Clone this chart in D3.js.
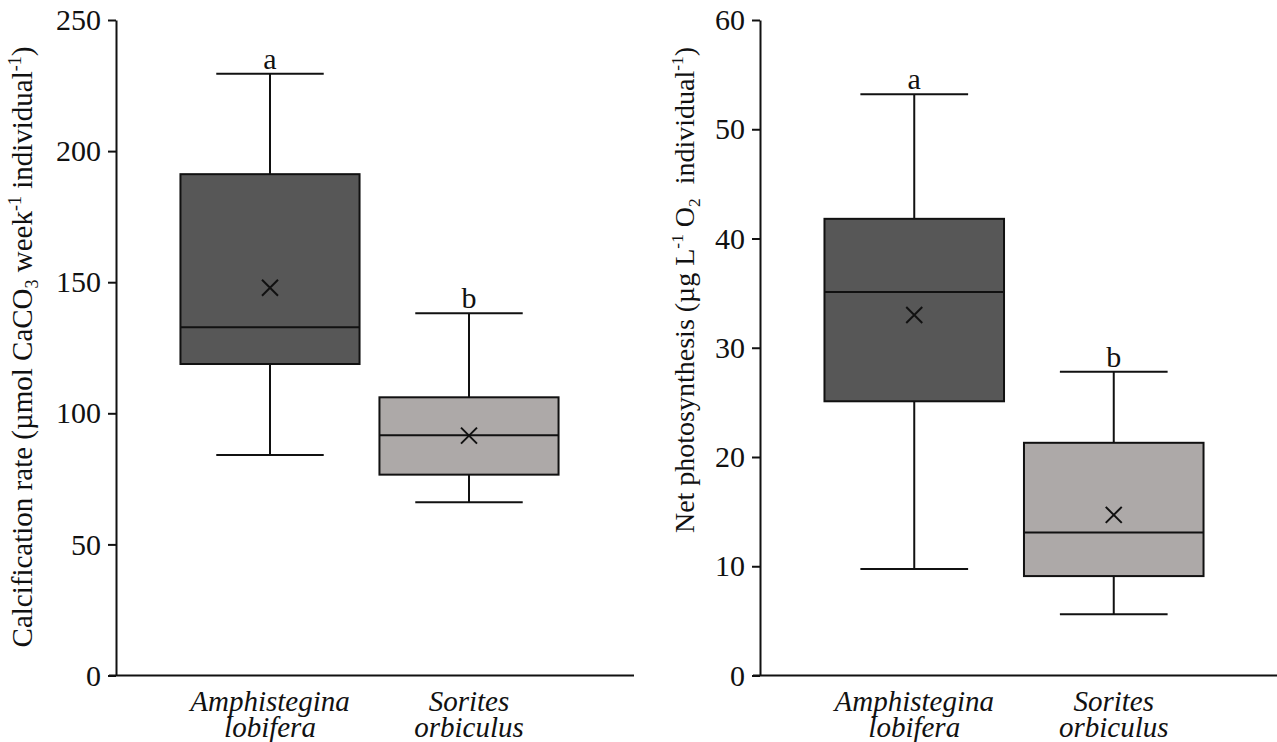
<!DOCTYPE html>
<html>
<head>
<meta charset="utf-8">
<script src="https://cdn.jsdelivr.net/npm/d3@7"></script>
<style>
  html, body { margin: 0; padding: 0; background: #fff; }
  svg { display: block; }
  text { font-family: "Liberation Serif", "Times New Roman", serif; fill: #111; }
</style>
</head>
<body>
<svg id="chart" width="1277" height="742"></svg>
<script>
// ---------------- data ----------------
const categories = ["Amphistegina lobifera", "Sorites orbiculus"];
const categoryLines = [["Amphistegina", "lobifera"], ["Sorites", "orbiculus"]];
const boxFills = ["#575757", "#ada9a8"];
const letters = ["a", "b"];

// Calcification rate (µmol CaCO3 week-1 individual-1)
const calcLow    = [84.1, 66.1];
const calcQ1     = [118.8, 76.6];
const calcMedian = [132.8, 91.6];
const calcQ3     = [191.2, 106.1];
const calcHigh   = [229.5, 138.2];
const calcMean   = [147.9, 91.5];
const calcTicks  = [0, 50, 100, 150, 200, 250];

// Net photosynthesis (µg L-1 O2 individual-1)
const photoLow    = [9.75, 5.6];
const photoQ1     = [25.1, 9.1];
const photoMedian = [35.1, 13.1];
const photoQ3     = [41.8, 21.3];
const photoHigh   = [53.2, 27.8];
const photoMean   = [33.0, 14.7];
const photoTicks  = [0, 10, 20, 30, 40, 50, 60];

// ---------------- drawing ----------------
const svg = d3.select("#chart");
const TICK_FONT = 30;
const CAT_FONT = 29;
const LETTER_FONT = 30;
const INK = "#111";

function panel(opts) {
  const g = svg.append("g");
  const y = d3.scaleLinear().domain(opts.yDomain).range([675.5, 20]);
  const x = d3.scaleBand().domain(categories).range(opts.bandRange).paddingInner(0).paddingOuter(0);
  const boxW = x.bandwidth() * 0.9;
  const capW = x.bandwidth() * 0.27;

  // y axis
  const ax = g.append("g")
    .attr("transform", `translate(${opts.axisX},0)`)
    .call(d3.axisLeft(y).tickValues(opts.ticks).tickSize(8).tickSizeOuter(0).tickPadding(7));
  ax.selectAll("path.domain").attr("stroke", INK).attr("stroke-width", 2);
  ax.selectAll(".tick line").attr("stroke", INK).attr("stroke-width", 2);
  ax.selectAll(".tick text").attr("font-size", TICK_FONT).attr("font-family", "Liberation Serif").attr("fill", INK);

  // x axis line
  g.append("line")
    .attr("x1", opts.axisX - 7).attr("x2", opts.xEnd)
    .attr("y1", y(0)).attr("y2", y(0))
    .attr("stroke", INK).attr("stroke-width", 2);

  const d = categories.map((c, i) => ({
    c, i, low: opts.low[i], q1: opts.q1[i], med: opts.median[i], q3: opts.q3[i],
    high: opts.high[i], mean: opts.mean[i]
  }));
  const cx = dd => x(dd.c) + x.bandwidth() / 2;

  const b = g.selectAll("g.box").data(d).enter().append("g").attr("class", "box");
  // whiskers
  b.append("line").attr("x1", cx).attr("x2", cx)
    .attr("y1", dd => y(dd.q3)).attr("y2", dd => y(dd.high))
    .attr("stroke", INK).attr("stroke-width", 2);
  b.append("line").attr("x1", cx).attr("x2", cx)
    .attr("y1", dd => y(dd.q1)).attr("y2", dd => y(dd.low))
    .attr("stroke", INK).attr("stroke-width", 2);
  b.append("line").attr("x1", dd => cx(dd) - capW).attr("x2", dd => cx(dd) + capW)
    .attr("y1", dd => y(dd.high)).attr("y2", dd => y(dd.high))
    .attr("stroke", INK).attr("stroke-width", 2);
  b.append("line").attr("x1", dd => cx(dd) - capW).attr("x2", dd => cx(dd) + capW)
    .attr("y1", dd => y(dd.low)).attr("y2", dd => y(dd.low))
    .attr("stroke", INK).attr("stroke-width", 2);
  // box
  b.append("rect")
    .attr("x", dd => cx(dd) - boxW / 2).attr("width", boxW)
    .attr("y", dd => y(dd.q3)).attr("height", dd => y(dd.q1) - y(dd.q3))
    .attr("fill", dd => boxFills[dd.i]).attr("stroke", INK).attr("stroke-width", 2);
  // median
  b.append("line").attr("x1", dd => cx(dd) - boxW / 2).attr("x2", dd => cx(dd) + boxW / 2)
    .attr("y1", dd => y(dd.med)).attr("y2", dd => y(dd.med))
    .attr("stroke", INK).attr("stroke-width", 2);
  // mean X
  const s = 8;
  b.append("path")
    .attr("d", dd => {
      const px = cx(dd), py = y(dd.mean);
      return `M${px - s},${py - s}L${px + s},${py + s}M${px - s},${py + s}L${px + s},${py - s}`;
    })
    .attr("stroke", INK).attr("stroke-width", 2).attr("fill", "none");
  // letters
  b.append("text")
    .attr("x", cx).attr("y", dd => y(dd.high) - 5)
    .attr("text-anchor", "middle").attr("font-size", LETTER_FONT)
    .text(dd => letters[dd.i]);

  // category labels (two lines each)
  const lab = g.selectAll("text.cat").data(d).enter().append("text")
    .attr("class", "cat")
    .attr("text-anchor", "middle").attr("font-size", CAT_FONT).attr("font-style", "italic");
  lab.each(function(dd) {
    const t = d3.select(this);
    categoryLines[dd.i].forEach((ln, k) => {
      t.append("tspan").attr("x", cx(dd)).attr("y", 711 + k * 26).text(ln);
    });
  });

  // y title
  const tt = g.append("text")
    .attr("transform", `translate(${opts.titleX},${opts.titleY}) rotate(-90)`)
    .attr("text-anchor", "middle").attr("font-size", opts.titleSize);
  opts.title.forEach(seg => {
    const sp = tt.append("tspan").text(seg.t);
    if (seg.sup) sp.attr("font-size", opts.titleSize * 0.62).attr("dy", -opts.titleSize * 0.38);
    if (seg.sub) sp.attr("font-size", opts.titleSize * 0.62).attr("dy", opts.titleSize * 0.22);
    if (seg.back) sp.attr("dy", seg.back * opts.titleSize);
  });
}

panel({
  yDomain: [0, 250], ticks: calcTicks, axisX: 116, xEnd: 634,
  bandRange: [170.5, 568.5],
  low: calcLow, q1: calcQ1, median: calcMedian, q3: calcQ3, high: calcHigh, mean: calcMean,
  titleX: 32, titleY: 347, titleSize: 29,
  title: [
    { t: "Calcification rate (µmol CaCO" },
    { t: "3", sub: true },
    { t: " week", back: -0.22 },
    { t: "-1", sup: true },
    { t: " individual", back: 0.38 },
    { t: "-1", sup: true },
    { t: ")", back: 0.38 }
  ]
});

panel({
  yDomain: [0, 60], ticks: photoTicks, axisX: 760, xEnd: 1277,
  bandRange: [814.5, 1213.5],
  low: photoLow, q1: photoQ1, median: photoMedian, q3: photoQ3, high: photoHigh, mean: photoMean,
  titleX: 694, titleY: 290, titleSize: 28,
  title: [
    { t: "Net photosynthesis (µg L" },
    { t: "-1", sup: true },
    { t: " O", back: 0.38 },
    { t: "2", sub: true },
    { t: "\u00a0 individual", back: -0.22 },
    { t: "-1", sup: true },
    { t: ")", back: 0.38 }
  ]
});
</script>
</body>
</html>
